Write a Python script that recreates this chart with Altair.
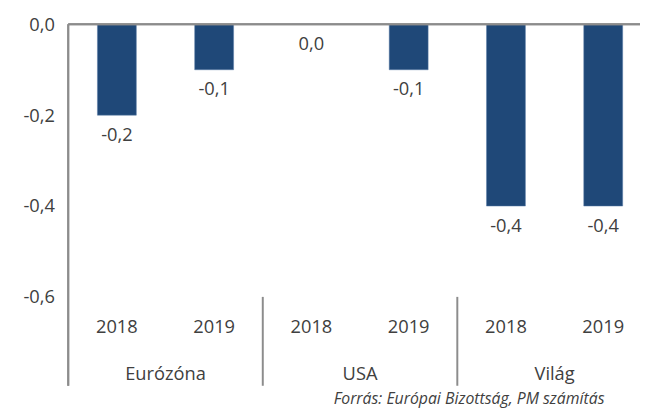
import altair as alt
import pandas as pd

groups = ["Eurózóna", "Eurózóna", "USA", "USA", "Világ", "Világ"]
years = ["2018", "2019", "2018", "2019", "2018", "2019"]
values = [-0.2, -0.1, 0.0, -0.1, -0.4, -0.4]
group_names = ["Eurózóna", "USA", "Világ"]
y_ticks = [-0.6, -0.4, -0.2, 0.0]
source_text = "Forrás: Európai Bizottság, PM számítás"

df = pd.DataFrame({
    "group": groups,
    "year": years,
    "value": values,
    "pos": [i + 0.5 for i in range(len(values))],
})
gdf = pd.DataFrame({"group": group_names, "gpos": [1, 3, 5]})
sep = pd.DataFrame({"b": [2, 4]})

FONT = "Open Sans"
TXT = "#404040"
BAR = "#1F4878"
LINE = "#8C8C8C"
FS = 18.5

xs = alt.Scale(domain=[0, 6], range=[0, 591])
ys = alt.Scale(domain=[-0.6, 0], nice=False, zero=False)
fmt = "(datum.value < 0 ? '-' : '') + replace(format(abs(datum.value), '.1f'), '.', ',')"

base = alt.Chart(df)

bars = base.transform_calculate(
    x1="datum.pos - 0.2", x2="datum.pos + 0.2"
).mark_bar(color=BAR, stroke="#5A7CA8", strokeWidth=0.5).encode(
    x=alt.X("x1:Q", scale=xs, axis=None),
    x2="x2:Q",
    y=alt.Y("value:Q", scale=ys, axis=alt.Axis(
        values=y_ticks, labelExpr=fmt, grid=False, ticks=False, domain=False,
        labelPadding=14, labelFont=FONT, labelFontSize=FS, labelColor=TXT, title=None)),
    y2=alt.datum(0),
)

labels = base.transform_calculate(
    lab="(datum.value < 0 ? '-' : '') + replace(format(abs(datum.value), '.1f'), '.', ',')"
).mark_text(font=FONT, fontSize=FS, color=TXT, baseline="middle", dy=20).encode(
    x=alt.X("pos:Q", scale=xs),
    y=alt.Y("value:Q", scale=ys),
    text="lab:N",
)

year_lbl = base.mark_text(font=FONT, fontSize=FS, color=TXT, baseline="middle").encode(
    x=alt.X("pos:Q", scale=xs),
    y=alt.value(307),
    text="year:N",
)

group_lbl = alt.Chart(gdf).mark_text(font=FONT, fontSize=FS, color=TXT, baseline="middle").encode(
    x=alt.X("gpos:Q", scale=xs),
    y=alt.value(354),
    text="group:N",
)

seps = alt.Chart(sep).mark_rule(color=LINE, strokeWidth=2).encode(
    x=alt.X("b:Q", scale=xs),
    y=alt.value(276),
    y2=alt.value(366),
)

left_line = alt.Chart(sep).mark_rule(color=LINE, strokeWidth=2).encode(
    x=alt.value(0), y=alt.value(0), y2=alt.value(366)
)

top_line = alt.Chart(sep).transform_calculate(z="0").mark_rule(color=LINE, strokeWidth=2).encode(
    x=alt.value(0), x2=alt.value(579), y=alt.Y("z:Q", scale=ys)
)

source = alt.Chart(gdf).transform_filter("datum.gpos == 1").mark_text(
    font=FONT, fontSize=16, fontStyle="italic", color=TXT, align="right", baseline="middle"
).encode(
    x=alt.value(543), y=alt.value(379.5), text=alt.value(source_text)
)

chart = alt.layer(bars, top_line, labels, year_lbl, group_lbl, seps, left_line, source).properties(
    width=579, height=276,
    autosize=alt.AutoSizeParams(type="none"),
    padding={"left": 61, "top": 14, "right": 0, "bottom": 112},
).configure_view(stroke=None)

chart.save("out.html", embed_options={"renderer": "svg", "actions": False})
